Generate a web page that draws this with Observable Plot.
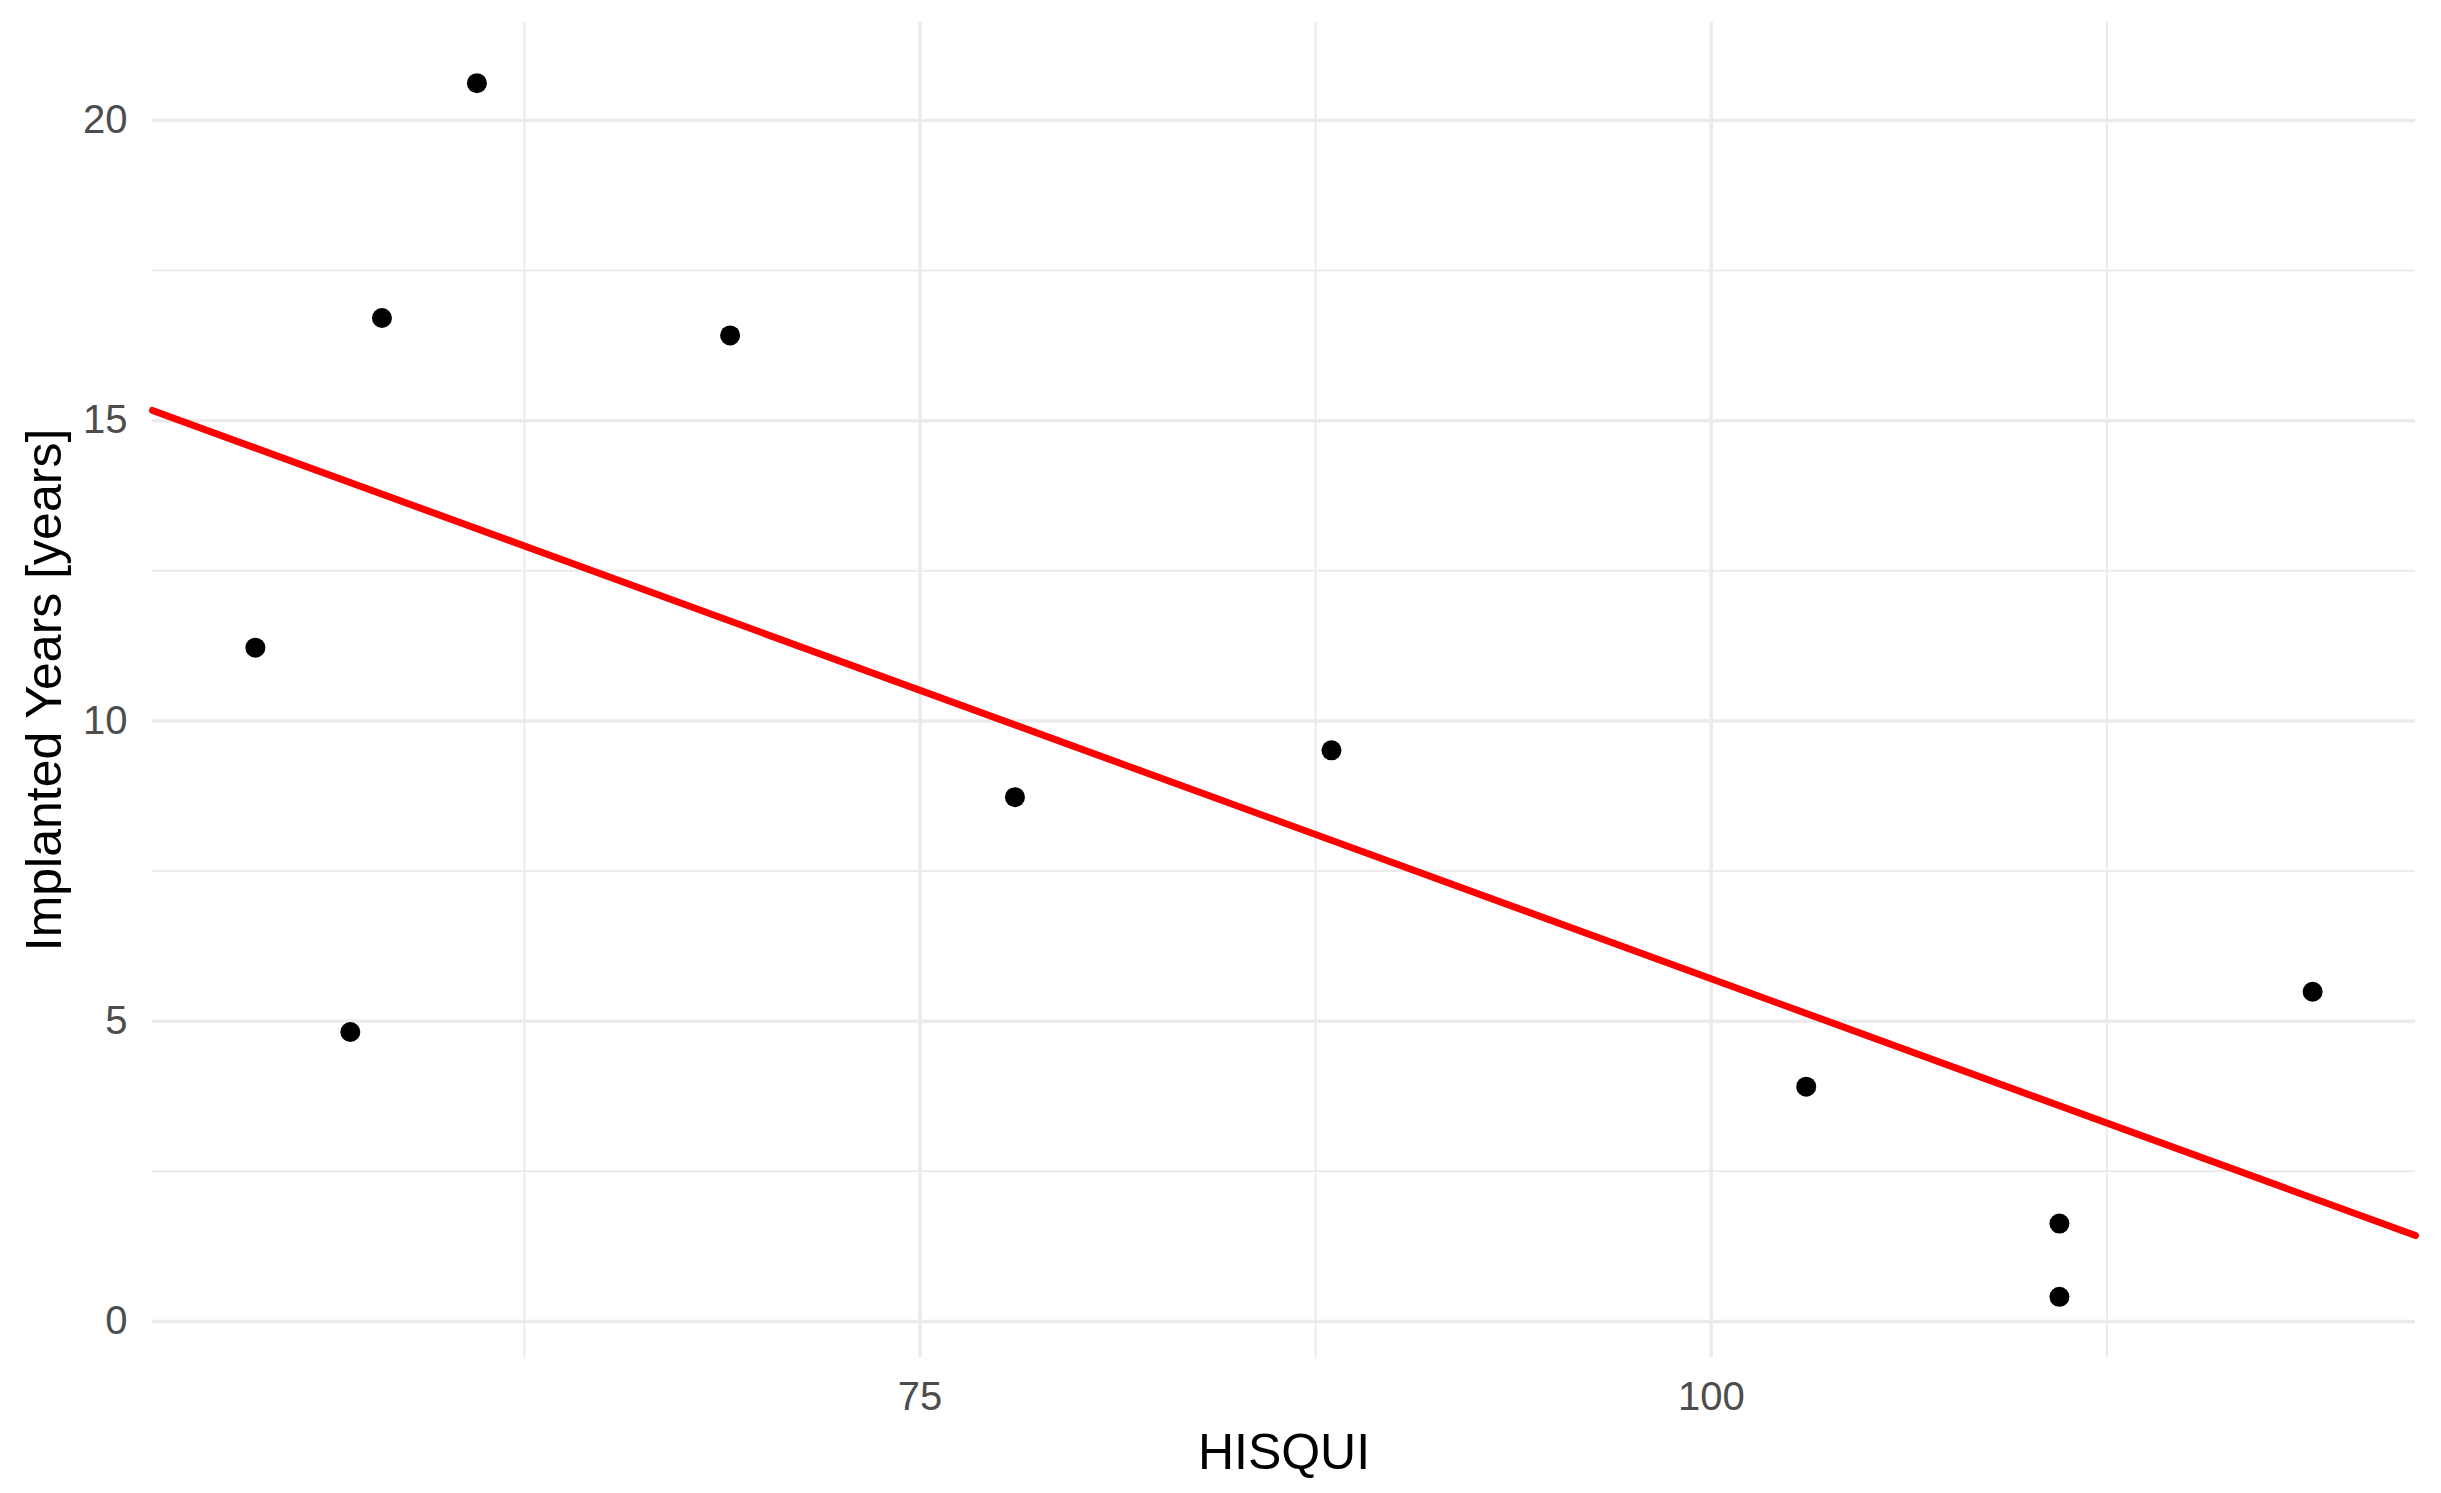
<!DOCTYPE html>
<html>
<head>
<meta charset="utf-8">
<script src="https://cdn.jsdelivr.net/npm/d3@7"></script>
<script src="https://cdn.jsdelivr.net/npm/@observablehq/plot@0.6"></script>
<style>
  html, body { margin: 0; padding: 0; background: #ffffff; }
  #chart svg { display: block; }
</style>
</head>
<body>
<div id="chart"></div>
<script>
// Data
const hisqui = [54, 57, 58, 61, 69, 78, 88, 103, 111, 111, 119];
const implantedYears = [11.22, 4.82, 16.71, 20.62, 16.42, 8.73, 9.51, 3.91, 1.63, 0.41, 5.49];

// Ticks
const xMajorTicks = [75, 100];
const xMinorTicks = [62.5, 87.5, 112.5];
const yMajorTicks = [0, 5, 10, 15, 20];
const yMinorTicks = [2.5, 7.5, 12.5, 17.5];

const xTitle = "HISQUI";
const yTitle = "Implanted Years [years]";

const data = hisqui.map((x, i) => ({x, y: implantedYears[i]}));

// ggplot-like 5% expansion
function expand([a, b]) { const d = (b - a) * 0.05; return [a - d, b + d]; }
const xDomain = expand(d3.extent(hisqui));
const yDomain = expand(d3.extent(implantedYears));

// Least squares fit, drawn over the full x range
const mx = d3.mean(hisqui), my = d3.mean(implantedYears);
const sxy = d3.sum(data, d => (d.x - mx) * (d.y - my));
const sxx = d3.sum(data, d => (d.x - mx) ** 2);
const slope = sxy / sxx, intercept = my - slope * mx;
const fit = xDomain.map(x => ({x, y: intercept + slope * x}));

const font = "'Liberation Sans', Arial, sans-serif";

const chart = Plot.plot({
  width: 2441,
  height: 1493,
  marginLeft: 152,
  marginRight: 26,
  marginTop: 22,
  marginBottom: 136,
  style: {fontFamily: font, background: "#ffffff", overflow: "visible"},
  x: {domain: xDomain},
  y: {domain: yDomain},
  marks: [
    Plot.gridX(xMinorTicks, {stroke: "#EBEBEB", strokeOpacity: 1, strokeWidth: 2}),
    Plot.gridY(yMinorTicks, {stroke: "#EBEBEB", strokeOpacity: 1, strokeWidth: 2}),
    Plot.gridX(xMajorTicks, {stroke: "#EBEBEB", strokeOpacity: 1, strokeWidth: 3.5}),
    Plot.gridY(yMajorTicks, {stroke: "#EBEBEB", strokeOpacity: 1, strokeWidth: 3.5}),
    Plot.axisX({ticks: xMajorTicks, tickSize: 0, tickPadding: 24, fontSize: 40, fill: "#4D4D4D", label: null}),
    Plot.axisY({ticks: yMajorTicks, tickSize: 0, tickPadding: 25, fontSize: 40, fill: "#4D4D4D", label: null}),
    Plot.text([xTitle], {frameAnchor: "bottom", dy: 95, fontSize: 50, fill: "#000000", textAnchor: "middle", lineAnchor: "middle"}),
    Plot.text([yTitle], {frameAnchor: "left", dx: -108, rotate: -90, fontSize: 50, fill: "#000000", textAnchor: "middle", lineAnchor: "middle"}),
    Plot.line(fit, {x: "x", y: "y", stroke: "#FF0000", strokeWidth: 7}),
    Plot.dot(data, {x: "x", y: "y", r: 10, fill: "#000000", stroke: "none"})
  ]
});
document.getElementById("chart").appendChild(chart);
</script>
</body>
</html>
